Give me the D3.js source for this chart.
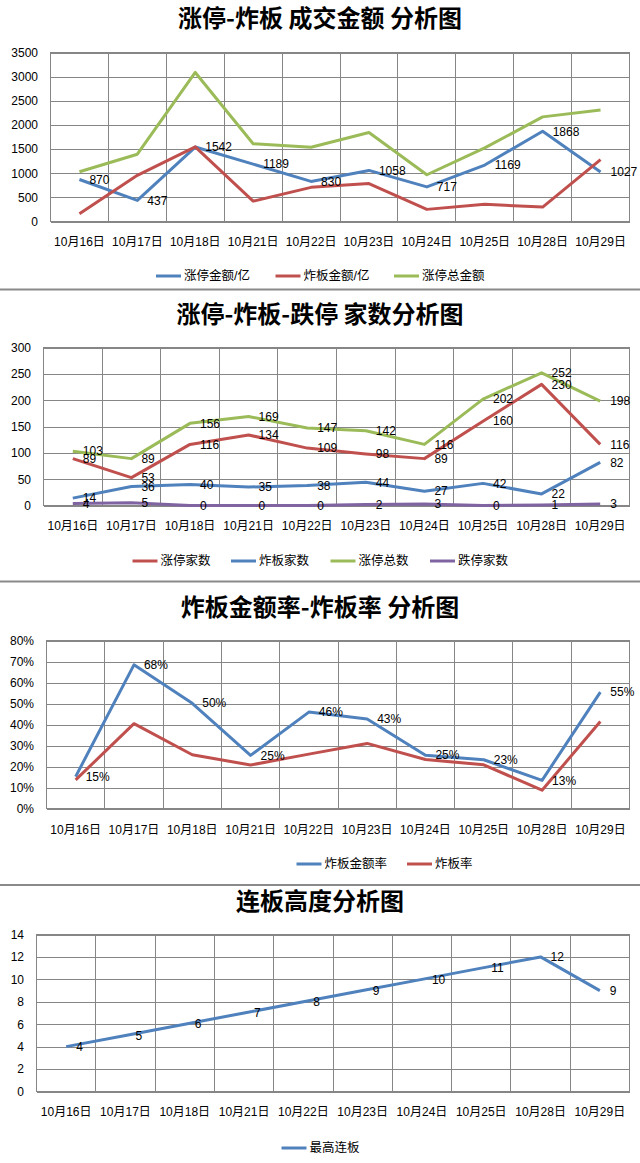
<!DOCTYPE html>
<html>
<head>
<meta charset="utf-8">
<script src="https://cdn.jsdelivr.net/npm/d3@7"></script>
<style>
  html, body { margin: 0; padding: 0; background: #fff; }
  svg { display: block; }
  text { font-family: "Liberation Sans", "Noto Sans CJK SC", sans-serif; fill: #000; }
  .title { font-family: "Noto Sans CJK SC", sans-serif; font-weight: bold; font-size: 24px; }
</style>
</head>
<body>
<svg id="chart" width="640" height="1163"></svg>
<script>
// ---------------- DATA ----------------
const dates = ["10月16日", "10月17日", "10月18日", "10月21日", "10月22日", "10月23日", "10月24日", "10月25日", "10月28日", "10月29日"];

// Chart 1: 成交金额 (亿)
const ztAmount = [870, 437, 1542, 1189, 830, 1058, 717, 1169, 1868, 1027];     // 涨停金额/亿
const zbAmount = [160, 957, 1545, 422, 707, 785, 251, 355, 299, 1280];         // 炸板金额/亿
const ztTotalAmount = [1030, 1394, 3087, 1611, 1537, 1843, 968, 1524, 2167, 2307]; // 涨停总金额
const amountTicks = [0, 500, 1000, 1500, 2000, 2500, 3000, 3500];

// Chart 2: 家数
const ztCount = [89, 53, 116, 134, 109, 98, 89, 160, 230, 116];   // 涨停家数
const zbCount = [14, 36, 40, 35, 38, 44, 27, 42, 22, 82];         // 炸板家数
const ztTotal = [103, 89, 156, 169, 147, 142, 116, 202, 252, 198]; // 涨停总数
const dtCount = [4, 5, 0, 0, 0, 2, 3, 0, 1, 3];                   // 跌停家数
const countTicks = [0, 50, 100, 150, 200, 250, 300];

// Chart 3: 比率 (%)
const zbAmountRate = [15.2, 68.4, 50.1, 25.3, 45.9, 42.6, 25.4, 23.2, 13.4, 55.4]; // 炸板金额率
const zbRate = [13.6, 40.4, 25.6, 20.7, 25.9, 31.0, 23.3, 20.8, 8.7, 41.4];        // 炸板率
const rateTicks = [0, 10, 20, 30, 40, 50, 60, 70, 80];

// Chart 4: 连板高度
const maxLianban = [4, 5, 6, 7, 8, 9, 10, 11, 12, 9]; // 最高连板
const heightTicks = [0, 2, 4, 6, 8, 10, 12, 14];

// ---------------- STYLE ----------------
const C = { blue: "#4F81BD", red: "#C0504D", green: "#9BBB59", purple: "#8064A2", grid: "#868686" };

const svg = d3.select("#chart");

function drawPanel(cfg) {
  const g = svg.append("g");
  const x = d3.scaleBand().domain(dates).range([cfg.left, cfg.right]);
  const y = d3.scaleLinear().domain([0, d3.max(cfg.ticks)]).range([cfg.bottom, cfg.top]);
  const cx = d => x(d) + x.bandwidth() / 2;

  // title
  g.append("text").attr("class", "title")
    .attr("x", 320).attr("y", cfg.titleY).attr("dy", "0.35em")
    .attr("text-anchor", "middle").text(cfg.title);

  // y axis with horizontal gridlines
  const yAxis = d3.axisLeft(y).tickValues(cfg.ticks).tickFormat(cfg.fmt)
    .tickSize(-(cfg.right - cfg.left)).tickPadding(cfg.left - cfg.labelRight);
  const ya = g.append("g").attr("transform", `translate(${cfg.left},0)`).call(yAxis);
  ya.select(".domain").remove();
  ya.selectAll("line").attr("stroke", C.grid).attr("shape-rendering", "crispEdges");
  ya.selectAll("text").attr("font-size", 12).attr("font-family", "Liberation Sans, sans-serif").attr("fill", "#000");

  // vertical category gridlines
  const xAxis = d3.axisBottom(x).tickSize(0);
  const xa = g.append("g").attr("transform", `translate(0,${cfg.bottom})`).call(xAxis);
  xa.select(".domain").remove();
  xa.selectAll("text").attr("font-size", 12).attr("y", cfg.xLabelY - cfg.bottom).attr("dy", "0.35em")
    .attr("font-family", "Liberation Sans, Noto Sans CJK SC, sans-serif").attr("fill", "#000");
  g.append("g").selectAll("line").data(dates.slice(1)).join("line")
    .attr("x1", d => x(d)).attr("x2", d => x(d))
    .attr("y1", cfg.top).attr("y2", cfg.bottom)
    .attr("stroke", C.grid).attr("shape-rendering", "crispEdges");
  g.append("rect").attr("x", cfg.left).attr("y", cfg.top)
    .attr("width", cfg.right - cfg.left).attr("height", cfg.bottom - cfg.top)
    .attr("fill", "none").attr("stroke", C.grid).attr("shape-rendering", "crispEdges");

  // series lines
  const line = d3.line().x((d, i) => cx(dates[i])).y(d => y(d));
  cfg.series.forEach(s => {
    g.append("path").datum(s.values).attr("d", line)
      .attr("fill", "none").attr("stroke", s.color).attr("stroke-width", 3)
      .attr("stroke-linejoin", "round").attr("stroke-linecap", "butt");
  });
  // labels
  cfg.series.filter(s => s.labels).forEach(s => {
    g.append("g").selectAll("text").data(s.values).join("text")
      .attr("x", (d, i) => cx(dates[i]) + 10).attr("y", d => y(d)).attr("dy", "0.35em")
      .attr("font-size", 12).attr("font-family", "Liberation Sans, sans-serif")
      .text(d => s.labelFmt ? s.labelFmt(d) : d);
  });

  // legend
  cfg.series.forEach((s, i) => {
    const lx = cfg.legendX[i];
    g.append("line").attr("x1", lx).attr("x2", lx + 25)
      .attr("y1", cfg.legendY).attr("y2", cfg.legendY)
      .attr("stroke", s.color).attr("stroke-width", 3);
    g.append("text").attr("x", lx + 28).attr("y", cfg.legendY).attr("dy", "0.35em")
      .attr("font-size", 12.5).attr("font-family", "Noto Sans CJK SC, sans-serif").text(s.name);
  });
}

// separators
[289.5, 581.5, 885].forEach(yy => {
  svg.append("line").attr("x1", 0).attr("x2", 640).attr("y1", yy).attr("y2", yy)
    .attr("stroke", "#8a8a8a").attr("stroke-width", 2);
});

drawPanel({
  title: "涨停-炸板 成交金额 分析图", titleY: 19,
  left: 50.5, right: 629.5, top: 52.5, bottom: 221.5, labelRight: 38,
  ticks: amountTicks, fmt: d => d, xLabelY: 242, legendY: 276,
  legendX: [156, 275.5, 394],
  series: [
    { name: "涨停金额/亿", values: ztAmount, color: C.blue, labels: true },
    { name: "炸板金额/亿", values: zbAmount, color: C.red },
    { name: "涨停总金额", values: ztTotalAmount, color: C.green }
  ]
});

drawPanel({
  title: "涨停-炸板-跌停 家数分析图", titleY: 315,
  left: 43.5, right: 629.5, top: 347.5, bottom: 505.5, labelRight: 31,
  ticks: countTicks, fmt: d => d, xLabelY: 526, legendY: 561,
  legendX: [132.5, 231, 330.5, 430],
  series: [
    { name: "涨停家数", values: ztCount, color: C.red, labels: true },
    { name: "炸板家数", values: zbCount, color: C.blue, labels: true },
    { name: "涨停总数", values: ztTotal, color: C.green, labels: true },
    { name: "跌停家数", values: dtCount, color: C.purple, labels: true }
  ]
});

drawPanel({
  title: "炸板金额率-炸板率 分析图", titleY: 608,
  left: 46.5, right: 629.5, top: 640.5, bottom: 808.5, labelRight: 34,
  ticks: rateTicks, fmt: d => d + "%", xLabelY: 830, legendY: 864,
  legendX: [296.5, 407],
  series: [
    { name: "炸板金额率", values: zbAmountRate, color: C.blue, labels: true, labelFmt: d => Math.round(d) + "%" },
    { name: "炸板率", values: zbRate, color: C.red }
  ]
});

drawPanel({
  title: "连板高度分析图", titleY: 902,
  left: 36.5, right: 629.5, top: 934.5, bottom: 1091.5, labelRight: 24,
  ticks: heightTicks, fmt: d => d, xLabelY: 1112, legendY: 1148,
  legendX: [281.5],
  series: [
    { name: "最高连板", values: maxLianban, color: C.blue, labels: true }
  ]
});
</script>
</body>
</html>
